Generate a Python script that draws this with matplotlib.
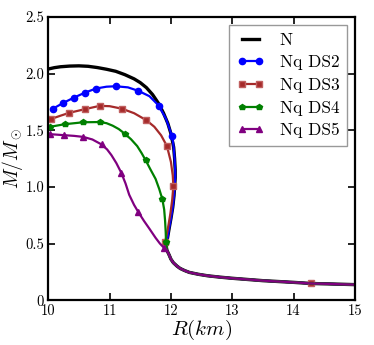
import numpy as np
import matplotlib
matplotlib.use('Agg')
import matplotlib.pyplot as plt

plt.rcParams['mathtext.fontset'] = 'cm'
plt.rcParams['font.family'] = 'serif'
plt.rcParams['font.serif'] = ['cmr10', 'DejaVu Serif']
plt.rcParams['axes.formatter.use_mathtext'] = True

# common low-mass tail
tail_R = [11.935, 11.97, 12.00, 12.04, 12.10, 12.15, 12.22, 12.30, 12.45, 12.60,
          12.80, 13.00, 13.50, 14.00, 14.29, 14.60, 15.00]
tail_M = [0.440, 0.400, 0.362, 0.330, 0.300, 0.280, 0.262, 0.245, 0.228, 0.215,
          0.203, 0.193, 0.172, 0.157, 0.147, 0.143, 0.137]

# N (nucleonic)
n_R = [10.00, 10.10, 10.20, 10.35, 10.50, 10.65, 10.80, 10.95, 11.10, 11.25,
       11.40, 11.50, 11.60, 11.70, 11.80, 11.88, 11.95, 12.00, 12.045, 12.06,
       12.07, 12.07, 12.06, 12.05, 12.03, 12.00, 11.97, 11.945, 11.93, 11.925] + tail_R
n_M = [2.040, 2.052, 2.060, 2.066, 2.068, 2.064, 2.053, 2.038, 2.020, 1.990,
       1.953, 1.920, 1.876, 1.815, 1.735, 1.650, 1.560, 1.470, 1.350, 1.250,
       1.150, 1.080, 1.000, 0.920, 0.820, 0.720, 0.630, 0.550, 0.500, 0.470] + tail_M

# Nq DS2
ds2_R = [10.08, 10.245, 10.42, 10.60, 10.78, 10.95, 11.10, 11.30, 11.47, 11.65,
         11.80, 11.92, 12.02, 12.045, 12.06, 12.07, 12.07, 12.06, 12.05, 12.03,
         12.00, 11.97, 11.945, 11.93, 11.925] + tail_R
ds2_M = [1.691, 1.741, 1.788, 1.832, 1.868, 1.884, 1.888, 1.878, 1.847, 1.800,
         1.718, 1.600, 1.447, 1.350, 1.250, 1.150, 1.080, 1.000, 0.920, 0.820,
         0.720, 0.630, 0.550, 0.500, 0.470] + tail_M
ds2_mk = [0, 1, 2, 3, 4, 6, 8, 10, 12]

# Nq DS3
ds3_R = [10.05, 10.20, 10.34, 10.60, 10.84, 11.00, 11.20, 11.40, 11.60, 11.73,
         11.84, 11.935, 12.00, 12.03, 12.04, 12.02, 11.99, 11.95, 11.92, 11.91] + tail_R
ds3_M = [1.600, 1.628, 1.653, 1.686, 1.715, 1.712, 1.690, 1.650, 1.588, 1.530,
         1.455, 1.360, 1.220, 1.100, 1.006, 0.880, 0.760, 0.630, 0.550, 0.510] + tail_M
ds3_mk = [0, 2, 3, 4, 6, 8, 11, 14, 19, 20 + 14]

# Nq DS4
ds4_R = [10.03, 10.27, 10.57, 10.84, 10.95, 11.05, 11.15, 11.25, 11.35, 11.45,
         11.52, 11.59, 11.67, 11.75, 11.81, 11.86, 11.89, 11.905, 11.915, 11.92] + tail_R
ds4_M = [1.530, 1.553, 1.570, 1.572, 1.562, 1.540, 1.510, 1.468, 1.420, 1.360,
         1.300, 1.233, 1.150, 1.070, 0.980, 0.891, 0.800, 0.700, 0.600, 0.515] + tail_M
ds4_mk = [0, 1, 2, 3, 7, 11, 15, 19]

# Nq DS5
ds5_R = [10.03, 10.26, 10.42, 10.57, 10.72, 10.87, 10.96, 11.03, 11.11, 11.19,
         11.26, 11.32, 11.40, 11.47, 11.56, 11.65, 11.75, 11.82, 11.89] + tail_R
ds5_M = [1.465, 1.456, 1.450, 1.441, 1.418, 1.374, 1.330, 1.280, 1.210, 1.125,
         1.030, 0.930, 0.840, 0.776, 0.700, 0.630, 0.550, 0.500, 0.460] + tail_M
ds5_mk = [0, 1, 3, 5, 9, 13, 18]

fig = plt.figure(figsize=(3.74, 3.45), dpi=100)
ax = fig.add_axes([0.129, 0.130, 0.820, 0.821])

ax.plot(n_R, n_M, color='black', lw=2.4, label='N')
ax.plot(ds2_R, ds2_M, color='#0000ff', lw=1.6, marker='o', ms=4.5,
        markevery=ds2_mk, mec='#0000ff', label='Nq DS2')
ax.plot(ds3_R, ds3_M, color='#a52a2a', lw=1.6, marker='s', ms=4.5,
        markevery=ds3_mk, mec='#c06060', label='Nq DS3')
ax.plot(ds4_R, ds4_M, color='#008000', lw=1.6, marker='p', ms=4,
        markevery=ds4_mk, mec='#008000', label='Nq DS4')
ax.plot(ds5_R, ds5_M, color='#800080', lw=1.6, marker='^', ms=4.5,
        markevery=ds5_mk, mec='#800080', label='Nq DS5')

ax.set_xlim(10, 15)
ax.set_ylim(0, 2.5)
ax.set_xticks([10, 11, 12, 13, 14, 15])
ax.set_xticklabels(['10', '11', '12', '13', '14', '15'])
ax.set_yticks([0, 0.5, 1.0, 1.5, 2.0, 2.5])
ax.set_yticklabels(['0', '0.5', '1.0', '1.5', '2.0', '2.5'])
ax.tick_params(direction='in', top=True, right=True, length=5, width=1.2,
               labelsize=10.5, pad=3)
for s in ax.spines.values():
    s.set_linewidth(1.6)

ax.set_xlabel('$R(km)$', fontsize=15, labelpad=0)
ax.set_ylabel('$M/M_\\odot$', fontsize=14, labelpad=0)

leg = ax.legend(loc='upper right', numpoints=2, fancybox=False, fontsize=12.5,
                handlelength=1.55, handletextpad=0.9, borderpad=0.45,
                borderaxespad=0.45, labelspacing=0.42,
                framealpha=1, edgecolor='#999999')
leg.get_frame().set_linewidth(1.0)

fig.savefig('out.png', dpi=100)
